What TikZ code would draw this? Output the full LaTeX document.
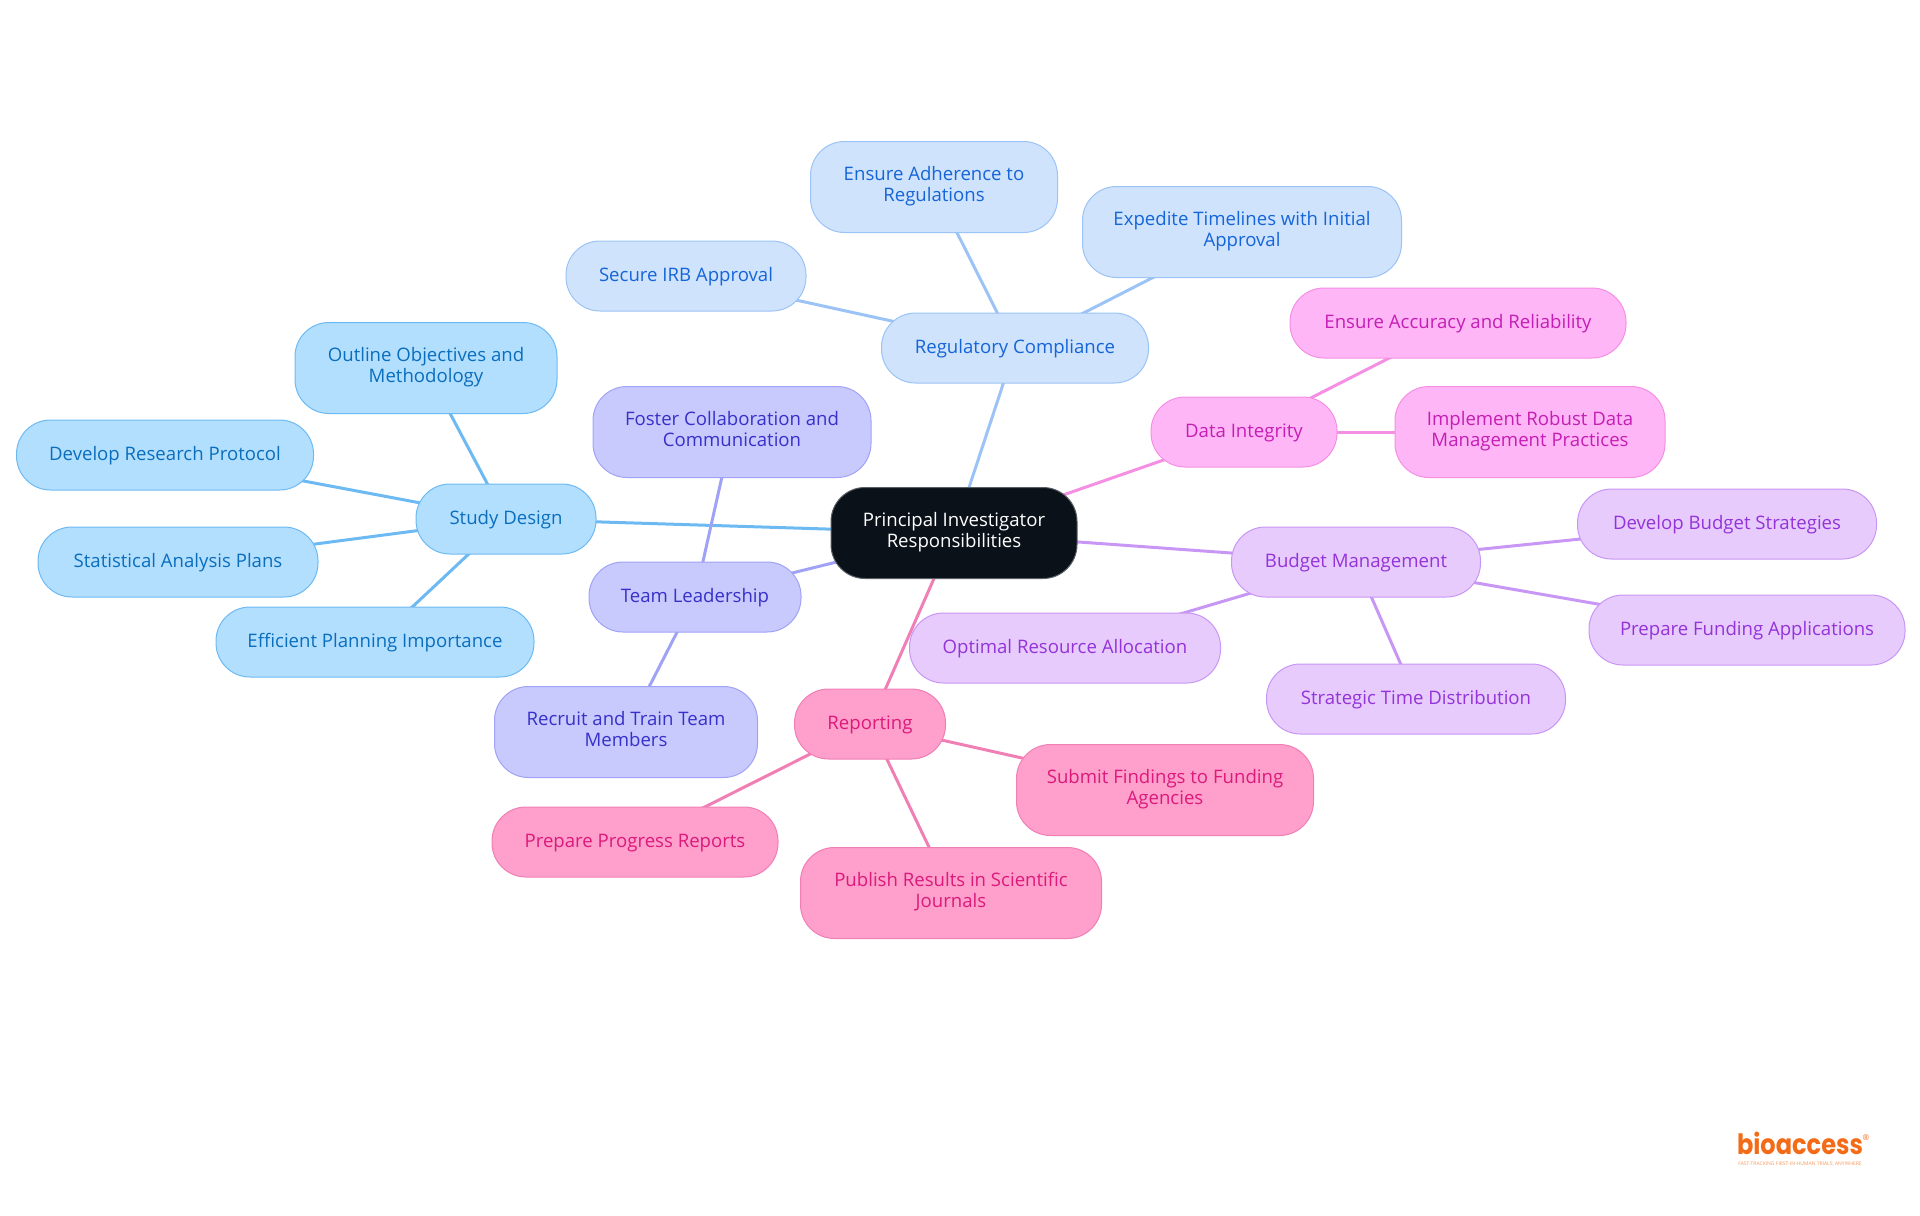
\documentclass[tikz,border=0pt]{standalone}
\usepackage{fontspec}
\setmainfont{Open Sans}
\newfontfamily\logofont[FakeStretch=0.86]{Poppins}
\newcommand\nodestrut{\rule[-2.65pt]{0pt}{10.5pt}} % keeps every line at the same height
\usetikzlibrary{backgrounds}
\begin{document}
\begin{tikzpicture}[x=0.5pt,y=-0.5pt] % one unit is one pixel of the 1920x1215 canvas
\tikzstyle{mynode} = [rectangle, rounded corners=17pt, inner sep=0pt, outer sep=0pt, line width=0.5pt, align=center, minimum height=35pt, font=\fontsize{9.3}{10.5}\selectfont, execute at begin node=\nodestrut, execute at end node=\nodestrut] % common node style
\tikzstyle{tall} = [minimum height=45.5pt] % two lines of text
\tikzstyle{rootnode} = [mynode, tall, fill=rootfill, draw=rootline, text=white]
\tikzstyle{studynode} = [mynode, fill=studyfill, draw=studyline, text=studytext]
\tikzstyle{regnode} = [mynode, fill=regfill, draw=regline, text=regtext]
\tikzstyle{teamnode} = [mynode, fill=teamfill, draw=teamline, text=teamtext]
\tikzstyle{datanode} = [mynode, fill=datafill, draw=dataline, text=datatext]
\tikzstyle{budgetnode} = [mynode, fill=budgetfill, draw=budgetline, text=budgettext]
\tikzstyle{reportnode} = [mynode, fill=reportfill, draw=reportline, text=reporttext]
\tikzstyle{myedge} = [line width=1.5pt]
\definecolor{rootfill}{HTML}{0A1119}\definecolor{rootline}{HTML}{5A5F65}
\definecolor{studyfill}{HTML}{B3DFFF}\definecolor{studyline}{HTML}{6DBAF3}\definecolor{studytext}{HTML}{0A6EBD}
\definecolor{regfill}{HTML}{CFE3FC}\definecolor{regline}{HTML}{9CC3F5}\definecolor{regtext}{HTML}{1565D8}
\definecolor{teamfill}{HTML}{C8CAFD}\definecolor{teamline}{HTML}{A0A3F5}\definecolor{teamtext}{HTML}{3730C9}
\definecolor{datafill}{HTML}{FFB6F6}\definecolor{dataline}{HTML}{F48FE4}\definecolor{datatext}{HTML}{C41EB4}
\definecolor{budgetfill}{HTML}{E7CBFD}\definecolor{budgetline}{HTML}{C896F5}\definecolor{budgettext}{HTML}{9333D8}
\definecolor{reportfill}{HTML}{FF9FCB}\definecolor{reportline}{HTML}{F07FB5}\definecolor{reporttext}{HTML}{DB1A7C}
\definecolor{logocolor}{HTML}{F36B16}
\useasboundingbox (0,0) rectangle (1920,1215);

\node[rootnode, minimum width=123pt] (root) at (954,533) {Principal Investigator\\Responsibilities};
% left side
\node[studynode, minimum width=90pt] (study) at (506,519) {Study Design};
\node[studynode, tall, minimum width=131pt] (outline) at (426,368) {Outline Objectives and\\Methodology};
\node[studynode, minimum width=148.5pt] (protocol) at (165,455) {Develop Research Protocol};
\node[studynode, minimum width=140pt] (stats) at (178,562) {Statistical Analysis Plans};
\node[studynode, minimum width=159pt] (planning) at (375,642) {Efficient Planning Importance};
%
\node[teamnode, minimum width=106pt] (team) at (695,597) {Team Leadership};
\node[teamnode, tall, minimum width=139pt] (foster) at (732,432) {Foster Collaboration and\\Communication};
\node[teamnode, tall, minimum width=131.5pt] (recruit) at (626,732) {Recruit and Train Team\\Members};
% top
\node[regnode, minimum width=133.5pt] (reg) at (1015,348) {Regulatory Compliance};
\node[regnode, tall, minimum width=123.5pt] (adhere) at (934,187) {Ensure Adherence to\\Regulations};
\node[regnode, minimum width=120pt] (irb) at (686,276) {Secure IRB Approval};
\node[regnode, tall, minimum width=159.5pt] (expedite) at (1242,232) {Expedite Timelines with Initial\\Approval};
% right side
\node[datanode, minimum width=93pt] (data) at (1244,432) {Data Integrity};
\node[datanode, minimum width=168pt] (accuracy) at (1458,323) {Ensure Accuracy and Reliability};
\node[datanode, tall, minimum width=135pt] (robust) at (1530,432) {Implement Robust Data\\Management Practices};
%
\node[budgetnode, minimum width=124.5pt] (budget) at (1356,562) {Budget Management};
\node[budgetnode, minimum width=149.5pt] (strategies) at (1727,524) {Develop Budget Strategies};
\node[budgetnode, minimum width=158pt] (funding) at (1747,630) {Prepare Funding Applications};
\node[budgetnode, minimum width=149.5pt] (timedist) at (1416,699) {Strategic Time Distribution};
\node[budgetnode, minimum width=155.5pt] (resource) at (1065,648) {Optimal Resource Allocation};
% bottom
\node[reportnode, minimum width=75.5pt] (report) at (870,724) {Reporting};
\node[reportnode, tall, minimum width=148.5pt] (submit) at (1165,790) {Submit Findings to Funding\\Agencies};
\node[reportnode, tall, minimum width=150.5pt] (publish) at (951,893) {Publish Results in Scientific\\Journals};
\node[reportnode, minimum width=143pt] (progress) at (635,842) {Prepare Progress Reports};
% logo
\node[inner sep=0pt, text=logocolor, font=\logofont\bfseries\fontsize{14}{14}\selectfont] (logo) at (1800,1143) {bioaccess};
\node[inner sep=0pt, text=logocolor, font=\fontsize{4}{4}\selectfont] (logoreg) at (1866,1138) {®};
\node[inner sep=0pt, text=logocolor!70, font=\fontsize{2.5}{3}\selectfont] (slogan) at (1800,1164) {FAST-TRACKING FIRST-IN-HUMAN TRIALS, ANYWHERE};

\begin{scope}[on background layer] % connectors run from centre to centre, under the nodes
\draw[myedge, studyline] (root.center)--(study.center);
\draw[myedge, studyline] (study.center)--(outline.center);
\draw[myedge, studyline] (study.center)--(protocol.center);
\draw[myedge, studyline] (study.center)--(stats.center);
\draw[myedge, studyline] (study.center)--(planning.center);
\draw[myedge, teamline] (root.center)--(team.center);
\draw[myedge, teamline] (team.center)--(foster.center);
\draw[myedge, teamline] (team.center)--(recruit.center);
\draw[myedge, regline] (root.center)--(reg.center);
\draw[myedge, regline] (reg.center)--(adhere.center);
\draw[myedge, regline] (reg.center)--(irb.center);
\draw[myedge, regline] (reg.center)--(expedite.center);
\draw[myedge, dataline] (root.center)--(data.center);
\draw[myedge, dataline] (data.center)--(accuracy.center);
\draw[myedge, dataline] (data.center)--(robust.center);
\draw[myedge, budgetline] (root.center)--(budget.center);
\draw[myedge, budgetline] (budget.center)--(strategies.center);
\draw[myedge, budgetline] (budget.center)--(funding.center);
\draw[myedge, budgetline] (budget.center)--(timedist.center);
\draw[myedge, budgetline] (budget.center)--(resource.center);
\draw[myedge, reportline] (root.center)--(report.center);
\draw[myedge, reportline] (report.center)--(submit.center);
\draw[myedge, reportline] (report.center)--(publish.center);
\draw[myedge, reportline] (report.center)--(progress.center);
\end{scope}
\end{tikzpicture}
\end{document}
